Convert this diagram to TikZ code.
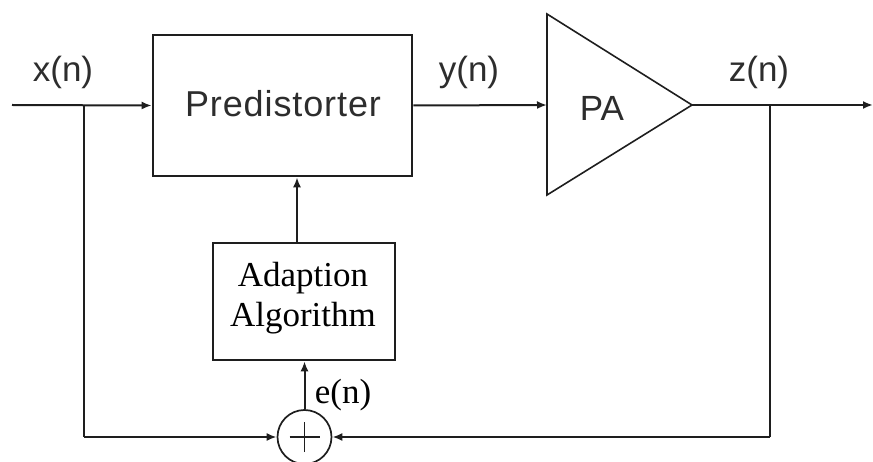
\documentclass[tikz,border=0pt]{standalone}
\usepackage{fontspec}
\setmainfont{Liberation Serif}
\setsansfont{Liberation Sans}
\usetikzlibrary{arrows.meta}
\definecolor{linec}{RGB}{30,30,30}
\definecolor{textc}{RGB}{45,45,45}
\tikzset{
  conn/.style={draw=linec, line width=2pt},
  arr/.style={conn, -{Latex[length=10pt,width=8pt]}},
  blockbox/.style={draw=linec, line width=2.6pt, inner sep=0pt},
  sanslab/.style={font=\sffamily\fontsize{35}{38}\selectfont, text=textc, inner sep=0pt},
  serlab/.style={font=\rmfamily\fontsize{35}{39}\selectfont, text=black, inner sep=0pt, align=center},
}
\begin{document}
\begin{tikzpicture}[x=1pt,y=-1pt]
\useasboundingbox (0,0) rectangle (873,462);
% blocks
\node[blockbox, minimum width=259pt, minimum height=141pt] (pred) at (282.5,105.5) {};
\node[sanslab, font=\sffamily\fontsize{36}{38}\selectfont] (predt) at (283,104) {\addfontfeatures{LetterSpace=2.5}Predistorter};
\node[blockbox, minimum width=182pt, minimum height=117pt] (adapt) at (304,301.5) {};
\node[serlab, font=\rmfamily\fontsize{35}{40}\selectfont] (adaptt) at (303,298) {Adaption\\Algorithm};
% PA triangle
\coordinate (paTop) at (547,14);
\coordinate (paBot) at (547,195);
\coordinate (paTip) at (692,105);
\coordinate (paL) at (547,105);
\draw[draw=linec, line width=1.6pt, line join=miter] (paTop) -- (paTip) -- (paBot) -- cycle;
\node[sanslab] (pat) at (602,108) {PA};
% sum junction
\node[draw=linec, line width=1.7pt, circle, minimum size=54pt, inner sep=0pt] (sum) at (304.5,437) {};
\draw[draw=linec, line width=1.3pt] ([xshift=-15pt]sum.center) -- ([xshift=15pt]sum.center)
  ([yshift=-15pt]sum.center) -- ([yshift=15pt]sum.center);
% coordinates
\coordinate (in) at (12,105);
\coordinate (bx) at (84,105);
\coordinate (bxd) at (84,437);
\coordinate (bz) at (770,105);
\coordinate (bzd) at (770,437);
\coordinate (out) at (873,105);
% connectors
\draw[arr] (in) -- (pred.west);
\draw[conn] (bx) -- (bxd);
\draw[arr] (bxd) -- (sum.west);
\draw[arr] (pred.east) -- (paL);
\draw[arr] (paTip) -- (out);
\draw[conn] (bz) -- (bzd);
\draw[arr] (bzd) -- (sum.east);
\draw[arr] (adapt.north -| 297,0) -- (pred.south -| 297,0);
\draw[arr] (sum.north) -- (adapt.south -| sum.north);
% labels
\node[sanslab] (xl) at (63,72) {x(n)};
\node[sanslab] (yl) at (469,72) {y(n)};
\node[sanslab] (zl) at (759,72) {z(n)};
\node[serlab] (el) at (343,395) {e(n)};
\end{tikzpicture}
\end{document}
